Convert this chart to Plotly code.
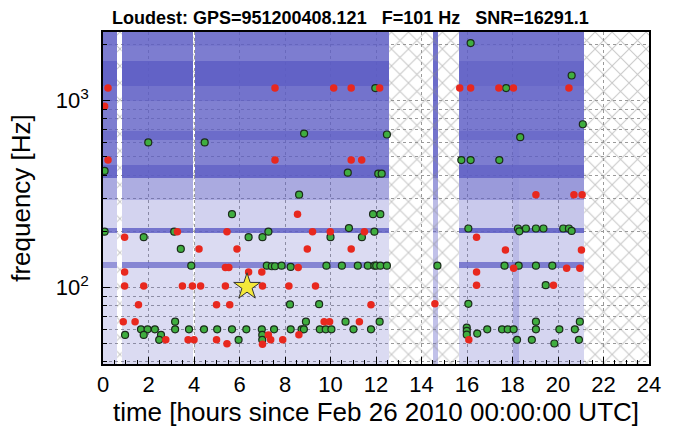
import math
import plotly.graph_objects as go

# ---------------- data ----------------
title_text = "Loudest: GPS=951200408.121\u00a0\u00a0\u00a0F=101 Hz\u00a0\u00a0\u00a0SNR=16291.1"

# background trigger density (fraction of area covered by blue dots)
t_edges = [0, 0.62, 0.82, 3.95, 4.05, 12.57, 14.5, 14.72, 15.65, 18.0, 18.3, 21.15, 24]
f_edges = [39, 128, 137, 196, 208, 294, 385, 451, 613, 692, 1000, 1200, 1630, 1960, 2330]
N = None
density = [
    # 0-.62 gap  .82-3.95 gap  4-12.6 gap  strip gap  15.6-18 18-18.3 18.3-21 gap
    [0.22, N, 0.22, N, 0.22, N, 0.38, N, 0.26, 0.48, 0.26, N],   # 39-128
    [0.65, N, 0.75, N, 0.75, N, 0.50, N, 0.80, 0.85, 0.80, N],   # 128-137
    [0.22, N, 0.22, N, 0.22, N, 0.38, N, 0.28, 0.42, 0.28, N],   # 137-196
    [0.80, N, 0.85, N, 0.85, N, 0.55, N, 0.90, 0.90, 0.90, N],   # 196-208
    [0.28, N, 0.27, N, 0.28, N, 0.42, N, 0.33, 0.42, 0.35, N],   # 208-294
    [0.52, N, 0.50, N, 0.52, N, 0.60, N, 0.62, 0.66, 0.62, N],   # 294-385
    [0.92, N, 0.93, N, 0.93, N, 0.82, N, 0.93, 0.93, 0.93, N],   # 385-451
    [0.78, N, 0.76, N, 0.76, N, 0.82, N, 0.80, 0.82, 0.80, N],   # 451-613
    [0.88, N, 0.90, N, 0.90, N, 0.86, N, 0.90, 0.90, 0.90, N],   # 613-692
    [0.80, N, 0.78, N, 0.78, N, 0.86, N, 0.82, 0.82, 0.82, N],   # 692-1000
    [0.86, N, 0.86, N, 0.86, N, 0.88, N, 0.87, 0.87, 0.87, N],   # 1000-1200
    [0.95, N, 0.96, N, 0.96, N, 0.90, N, 0.93, 0.93, 0.93, N],   # 1200-1630
    [0.80, N, 0.80, N, 0.80, N, 0.86, N, 0.83, 0.83, 0.83, N],   # 1630-1960
    [0.84, N, 0.84, N, 0.84, N, 0.88, N, 0.85, 0.85, 0.85, N],   # 1960-2330
]

# segments without data (hatched)
gap_start = [0.62, 3.95, 12.57, 21.15]
gap_end = [0.82, 4.05, 15.65, 24.0]

red_t = [0.22, 0.07, 7.56, 10.14, 10.91, 12.16,
         0.22, 7.56, 10.91, 11.37,
         15.68, 16.16, 17.40, 18.04, 20.48,
         19.03, 20.70, 21.06,
         8.55,
         3.27, 5.45, 9.21, 9.99, 11.49,
         0.95,
         4.22, 5.89, 8.98, 10.91,
         5.38, 5.53, 8.58,
         0.95, 6.40, 6.98,
         0.95, 1.79, 3.49, 3.93, 4.29, 5.38, 7.01, 8.17, 9.34,
         1.56, 4.99, 5.57, 11.78,
         0.89, 1.41, 9.72, 9.96, 11.27,
         2.76, 3.74, 4.00, 4.99, 5.45, 7.27, 7.37, 7.01, 7.90, 8.61,
         16.42, 17.69, 21.03, 18.05, 20.38, 20.96, 16.42, 16.42, 19.80, 14.59, 16.08]
red_f = [1168, 933, 1168, 1168, 1168, 1168,
         481, 481, 481, 481,
         1168, 1168, 1168, 1168, 1168,
         314, 314, 314,
         247,
         199, 199, 199, 199, 199,
         186,
         161, 161, 161, 161,
         128, 128, 128,
         121, 121, 121,
         102, 102, 102, 102, 102, 102, 102, 102, 102,
         81, 81, 81, 81,
         65.7, 65.7, 65.7, 65.7, 65.7,
         52.5, 52.5, 52.5, 52.5, 50.0, 55.8, 52.5, 49.7, 52.5, 56,
         186, 159, 159, 127, 127, 127, 121, 103, 103, 82, 52.5]

green_t = [11.97, 8.84, 1.99, 4.47, 0.07, 10.76, 8.62,
           16.16, 20.60, 17.72, 12.48, 21.09, 18.34,
           15.75, 16.16, 17.42, 12.10, 12.25,
           5.67, 0.07, 3.13, 7.27, 10.81, 11.93,
           1.79, 6.40, 7.01, 10.00, 11.38,
           3.42, 3.88, 7.20, 7.42, 7.56, 7.85, 8.25,
           9.82, 10.50, 11.20, 11.64, 11.93,
           8.22, 9.50,
           3.17, 8.92, 10.66,
           1.67, 1.96, 2.28, 3.17, 3.78, 4.44, 5.02, 5.67, 6.30, 6.98,
           7.52, 8.25, 8.73, 8.83, 9.53, 9.79, 10.04, 11.01, 11.78,
           0.97, 1.79, 2.55, 2.47, 5.96, 7.00, 7.00,
           11.87, 12.19, 16.06, 18.24, 18.30, 18.59, 19.03, 19.36, 20.23, 20.48, 20.60,
           12.01, 12.19, 12.48, 14.70, 17.65, 18.27, 19.03, 19.75,
           19.46, 16.06, 12.16, 19.03, 20.96,
           15.99, 15.99, 15.99, 16.89, 17.54, 17.79, 18.05, 19.03, 20.06, 20.74,
           16.45, 18.20, 18.85, 19.84, 20.92]
green_f = [1168, 667, 598, 598, 421, 412, 314,
           2034, 1363, 1168, 659, 748, 638,
           481, 481, 481, 407, 407,
           247, 199, 199, 199, 208, 199,
           186, 186, 186, 186, 186,
           161, 131, 131, 130, 130, 131, 129,
           131, 131, 131, 131, 131,
           81.2, 81.5,
           65.7, 65.7, 65.7,
           59.8, 59.8, 59.8, 59.8, 59.8, 59.8, 59.8, 59.8, 59.8, 59.8,
           59.8, 59.8, 59.8, 59.8, 59.8, 59.8, 59.8, 59.8, 59.8,
           55.8, 55.8, 55.8, 52.5, 52.5, 55.8, 52.5,
           247, 247, 207, 207, 200, 207, 207, 207, 207, 207, 201,
           131, 131, 131, 131, 131, 131, 131, 131,
           103, 81.9, 65.7, 65.7, 65.7,
           61, 58.6, 56, 59.8, 59.8, 59.8, 59.8, 59.8, 59.8, 59.8,
           56.7, 52.5, 52.5, 50.2, 52.5]

loudest_t = [6.33]
loudest_f = [101]

x_ticks = [0, 2, 4, 6, 8, 10, 12, 14, 16, 18, 20, 22, 24]
y_ticks = [100, 1000]
y_ticktext = ["10<sup>2</sup>", "10<sup>3</sup>"]
y_minor = [40, 50, 60, 70, 80, 90, 200, 300, 400, 500, 600, 700, 800, 900, 2000]
f_range = [39, 2330]

# ---------------- figure ----------------
FONT = "Liberation Sans, Arial, Helvetica, sans-serif"
DOT = "92,92,196"

fig = go.Figure()

# hatched no-data segments
for a, b in zip(gap_start, gap_end):
    fig.add_trace(go.Scatter(
        x=[a, b, b, a, a], y=[f_range[0] * 0.8, f_range[0] * 0.8, f_range[1] * 1.2, f_range[1] * 1.2, f_range[0] * 0.8],
        fill="toself", mode="none", fillcolor="rgba(255,255,255,0)",
        fillpattern=dict(shape="x", size=12, solidity=0.16, fgcolor="#8e8e8e",
                         bgcolor="rgba(255,255,255,0)"),
        hoverinfo="skip", showlegend=False))

# background triggers (density)
fig.add_trace(go.Heatmap(
    x=t_edges, y=f_edges, z=density, zmin=0, zmax=1,
    colorscale=[[0, f"rgba({DOT},0)"], [1, f"rgba({DOT},1)"]],
    showscale=False, hoverinfo="skip"))

fig.add_trace(go.Scatter(
    x=green_t, y=green_f, mode="markers",
    marker=dict(size=7, color="#3fae3f", line=dict(color="#1b2b1b", width=1.2)),
    showlegend=False))
fig.add_trace(go.Scatter(
    x=red_t, y=red_f, mode="markers",
    marker=dict(size=7.5, color="#e8281e", line=dict(width=0)),
    showlegend=False))
fig.add_trace(go.Scatter(
    x=loudest_t, y=loudest_f, mode="markers",
    marker=dict(size=20, symbol="star", color="#f4e83a", line=dict(color="#333333", width=1)),
    showlegend=False))

fig.update_layout(
    width=673, height=433,
    margin=dict(l=103, r=20, t=32, b=68),
    paper_bgcolor="white", plot_bgcolor="white",
    font=dict(family=FONT, color="black"),
    title=dict(text="<b>" + title_text + "</b>", x=112 / 673, xanchor="left",
               y=1 - 18 / 433, yanchor="middle", font=dict(size=18, family=FONT)),
    xaxis=dict(
        range=[0, 24], tickvals=x_ticks, ticks="inside", ticklen=7, tickwidth=1,
        tickcolor="black", showline=True, linecolor="black", linewidth=1.5, mirror=True,
        showgrid=True, gridcolor="#9a9a9a", griddash="dot", gridwidth=1,
        minor=dict(dtick=0.5, ticks="inside", ticklen=4, tickcolor="black", showgrid=False),
        tickfont=dict(size=22), zeroline=False,
        title=dict(text="time [hours since Feb 26 2010 00:00:00 UTC]", font=dict(size=26), standoff=6),
    ),
    yaxis=dict(
        type="log", range=[math.log10(f_range[0]), math.log10(f_range[1])],
        tickvals=y_ticks, ticktext=y_ticktext, ticks="inside", ticklen=7,
        tickcolor="black", showline=True, linecolor="black", linewidth=1.5, mirror=True,
        showgrid=True, gridcolor="#9a9a9a", griddash="dot",
        minor=dict(tickvals=y_minor, ticks="inside", ticklen=4, tickcolor="black",
                   showgrid=True, gridcolor="#9a9a9a", griddash="dot"),
        tickfont=dict(size=22), zeroline=False, ticklabelstandoff=8,
        title=dict(text="frequency [Hz]", font=dict(size=26), standoff=18),
    ),
)

fig.write_html("out.html")
